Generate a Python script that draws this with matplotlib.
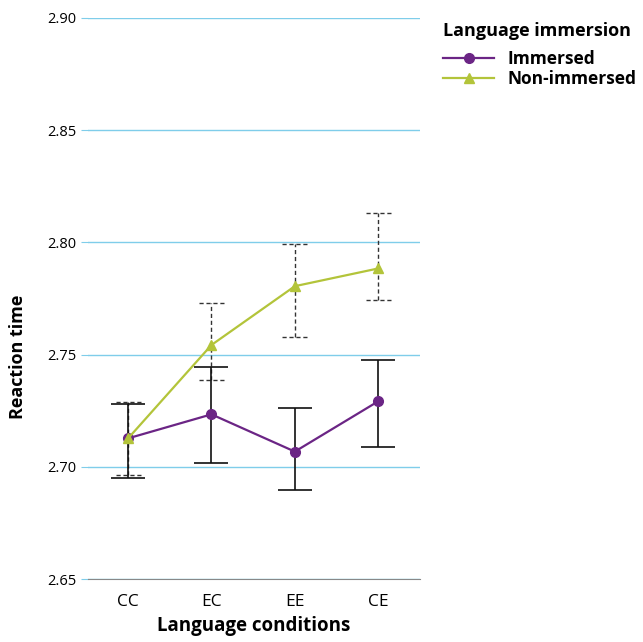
import numpy as np
import matplotlib.pyplot as plt

plt.rcParams['font.family'] = ['Open Sans', 'DejaVu Sans']

conditions = ['CC', 'EC', 'EE', 'CE']
immersed = [2.7127, 2.7234, 2.7068, 2.7292]
immersed_lo = [2.6949, 2.7016, 2.6895, 2.7087]
immersed_hi = [2.7281, 2.7443, 2.7263, 2.7478]
non_immersed = [2.7127, 2.7543, 2.7805, 2.7884]
non_lo = [2.6965, 2.7386, 2.7577, 2.7742]
non_hi = [2.7287, 2.7728, 2.7992, 2.8130]

purple = '#6b2585'
green = '#b3c43a'

fig = plt.figure(figsize=(6.43, 6.42), dpi=100)
ax = fig.add_axes([0.137, 0.098, 0.516, 0.874])

x = np.arange(len(conditions))

ax.grid(axis='y', color='#7fcdea', linewidth=1)
ax.set_axisbelow(True)

# non-immersed bars: dashed stems and dashed caps
eb2 = ax.errorbar(x, non_immersed,
                  yerr=[np.array(non_immersed) - non_lo, np.array(non_hi) - non_immersed],
                  fmt='none', ecolor='#333333', elinewidth=1, capsize=0, zorder=2)
eb2[2][0].set_linestyle((0, (3, 2)))
for xi, lo, hi in zip(x, non_lo, non_hi):
    for yv in (lo, hi):
        ax.plot([xi - 0.15, xi + 0.15], [yv, yv], color='#333333', linewidth=1,
                linestyle=(0, (3, 2)), zorder=2)

ax.errorbar(x, immersed,
            yerr=[np.array(immersed) - immersed_lo, np.array(immersed_hi) - immersed],
            fmt='none', ecolor='#111111', elinewidth=1.2, capsize=12, capthick=1.2, zorder=2)

ax.plot(x, immersed, color=purple, marker='o', markersize=7, linewidth=1.6,
        label='Immersed', zorder=3)
ax.plot(x, non_immersed, color=green, marker='^', markersize=7, linewidth=1.6,
        label='Non-immersed', zorder=3)

ax.set_ylim(2.65, 2.90)
ax.set_xlim(-0.48, 3.5)
ax.set_xticks(x)
ax.set_xticklabels(conditions, fontsize=12.5)
ax.set_yticks([2.65, 2.70, 2.75, 2.80, 2.85, 2.90])
ax.set_yticklabels(['2.65', '2.70', '2.75', '2.80', '2.85', '2.90'], fontsize=10.5)
ax.tick_params(axis='y', length=5, color='#7fcdea')
ax.tick_params(axis='x', length=0, pad=11)

for s in ['top', 'right', 'left']:
    ax.spines[s].set_visible(False)
ax.spines['bottom'].set_color('#888888')

ax.set_xlabel('Language conditions', fontsize=13.5, fontweight='bold', labelpad=4)
ax.set_ylabel('Reaction time', fontsize=13, fontweight='bold')
ax.yaxis.set_label_coords(-0.185, 0.396)

leg = ax.legend(loc='upper left', bbox_to_anchor=(1.05, 1.005), frameon=False,
                title='Language immersion', fontsize=12.5, title_fontsize=13,
                handlelength=2.9, borderaxespad=0, labelspacing=0.15, handletextpad=0.8)
leg.get_title().set_fontweight('bold')
leg._legend_box.align = 'left'
leg._legend_box.sep = 7
for t in leg.get_texts():
    t.set_fontweight('bold')

fig.savefig('out.png', dpi=100)
